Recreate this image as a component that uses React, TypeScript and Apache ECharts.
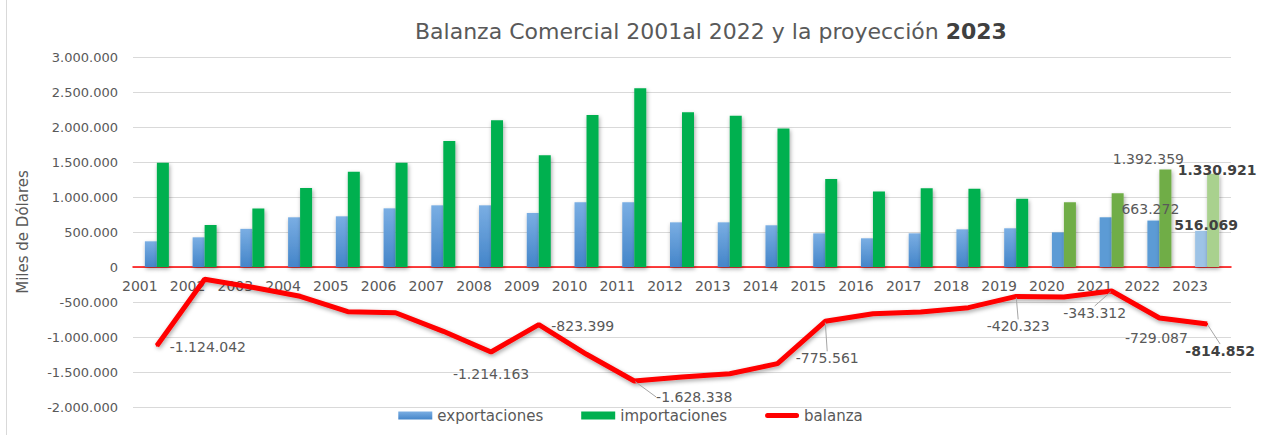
import React, { useEffect, useRef } from "react";
import * as echarts from "echarts";

const years = ["2001","2002","2003","2004","2005","2006","2007","2008","2009","2010","2011","2012","2013","2014","2015","2016","2017","2018","2019","2020","2021","2022","2023"];
const exportaciones = [367000,424000,545000,710000,724000,838000,881000,881000,772000,924000,924000,638000,638000,596000,481000,410000,481000,538000,553000,495000,710000,663272,516069];
const importaciones = [1491042,600000,835000,1129000,1362000,1491000,1800000,2095163,1595399,2171000,2552338,2210000,2162000,1977000,1256561,1077000,1124000,1119000,973323,924000,1053312,1392359,1330921];
const balanza = [-1124042,-176000,-290000,-419000,-638000,-653000,-919000,-1214163,-823399,-1247000,-1628338,-1572000,-1524000,-1381000,-775561,-667000,-643000,-581000,-420323,-429000,-343312,-729087,-814852];
const yTicks = { min: -2000000, max: 3000000, interval: 500000 };

const FONT = "DejaVu Sans";
const GRAY = "#595959";

const fmt = (v: number) => Math.round(v).toString().replace(/\B(?=(\d{3})+(?!\d))/g, ".");

// label placement (styling, not data)
const lineLabelShift: Record<number, { dx: number; dy: number; bold?: boolean; guide?: boolean }> = {
  0: { dx: 51, dy: 1 },
  7: { dx: 0, dy: 22 },
  8: { dx: 44, dy: 1 },
  10: { dx: 60, dy: 16, guide: true },
  14: { dx: 2, dy: 37, guide: true },
  18: { dx: 2, dy: 30, guide: true },
  20: { dx: -17, dy: 22, guide: true },
  21: { dx: -3, dy: 20 },
  22: { dx: 13, dy: 27, bold: true, guide: true },
};
const expLabel: Record<number, { offset: number[]; bold?: boolean }> = {
  21: { offset: [-3, 0] },
  22: { offset: [5, 6], bold: true },
};
const impLabel: Record<number, { offset: number[]; bold?: boolean }> = {
  21: { offset: [-17, 1] },
  22: { offset: [4, 8], bold: true },
};

const blueGrad = new echarts.graphic.LinearGradient(0, 0, 0, 1, [
  { offset: 0, color: "#7aaee3" },
  { offset: 1, color: "#4485c9" },
]);

function expColor(i: number) {
  if (i === 22) return "#9dc3e6";
  if (i >= 19) return "#5b9bd5";
  return blueGrad;
}
function impColor(i: number) {
  if (i === 22) return "#a9d18e";
  if (i >= 19) return "#70ad47";
  return "#00b050";
}

const barShadow = {
  shadowColor: "rgba(0,0,0,0.35)",
  shadowBlur: 4,
  shadowOffsetX: 1,
  shadowOffsetY: 2,
};

export default function App() {
  const ref = useRef<HTMLDivElement>(null);
  useEffect(() => {
    if (!ref.current) return;
    const chart = echarts.init(ref.current, undefined, { renderer: "svg" });
    const option: any = {
      animation: false,
      backgroundColor: "#ffffff",
      textStyle: { fontFamily: FONT },
      title: {
        left: 410,
        top: 15,
        text: "{n|Balanza Comercial 2001al 2022 y la proyección }{b|2023}",
        textStyle: {
          rich: {
            n: { fontFamily: FONT, fontSize: 22, color: GRAY, fontWeight: "normal" },
            b: { fontFamily: FONT, fontSize: 22, color: "#404040", fontWeight: "bold" },
          },
        },
      },
      legend: {
        left: "center",
        bottom: 7,
        itemWidth: 34,
        itemHeight: 8,
        itemGap: 38,
        textStyle: { fontFamily: FONT, fontSize: 15, color: GRAY },
        data: [
          { name: "exportaciones", icon: "rect" },
          { name: "importaciones", icon: "rect" },
          { name: "balanza", icon: "path://M2.5,0 L31.5,0 A2.5,2.5 0 0 1 31.5,5 L2.5,5 A2.5,2.5 0 0 1 2.5,0 Z" },
        ],
      },
      grid: { left: 133, right: 30, top: 57, bottom: 28 },
      xAxis: {
        type: "category",
        data: years,
        offset: -140,
        axisLine: { onZero: false, lineStyle: { color: "#ff0000", width: 1.5 } },
        axisTick: { show: false },
        axisLabel: {
          fontFamily: FONT,
          fontSize: 14,
          color: GRAY,
          margin: 12,
          padding: [0, 34, 0, 0],
        },
      },
      yAxis: {
        type: "value",
        min: yTicks.min,
        max: yTicks.max,
        interval: yTicks.interval,
        name: "Miles de Dólares",
        nameLocation: "middle",
        nameGap: 103,
        nameRotate: 90,
        nameTextStyle: { fontFamily: FONT, fontSize: 15, color: GRAY },
        axisLine: { show: false },
        axisTick: { show: false },
        splitLine: { lineStyle: { color: "#d9d9d9", width: 1 } },
        axisLabel: {
          fontFamily: FONT,
          fontSize: 13,
          color: GRAY,
          margin: 15,
          formatter: (v: number) => fmt(v),
        },
      },
      series: [
        {
          name: "exportaciones",
          type: "bar",
          barWidth: 12,
          barGap: "0%",
          itemStyle: { color: blueGrad, ...barShadow },
          data: exportaciones.map((v, i) => ({
            value: v,
            itemStyle: { color: expColor(i) },
            label: expLabel[i]
              ? {
                  show: true,
                  position: "top",
                  offset: expLabel[i].offset,
                  formatter: (p: any) => fmt(p.value),
                  fontFamily: FONT,
                  fontSize: 14,
                  color: expLabel[i].bold ? "#404040" : GRAY,
                  fontWeight: expLabel[i].bold ? "bold" : "normal",
                }
              : { show: false },
          })),
        },
        {
          name: "importaciones",
          type: "bar",
          barWidth: 12,
          barGap: "0%",
          itemStyle: { color: "#00b050", ...barShadow },
          data: importaciones.map((v, i) => ({
            value: v,
            itemStyle: { color: impColor(i) },
            label: impLabel[i]
              ? {
                  show: true,
                  position: "top",
                  offset: impLabel[i].offset,
                  formatter: (p: any) => fmt(p.value),
                  fontFamily: FONT,
                  fontSize: 14,
                  color: impLabel[i].bold ? "#404040" : GRAY,
                  fontWeight: impLabel[i].bold ? "bold" : "normal",
                }
              : { show: false },
          })),
        },
        {
          name: "balanza",
          type: "line",
          symbol: "circle",
          symbolSize: 2,
          z: 5,
          itemStyle: { color: "#ff0000" },
          lineStyle: {
            color: "#ff0000",
            width: 5,
            shadowColor: "rgba(0,0,0,0.35)",
            shadowBlur: 4,
            shadowOffsetX: 1,
            shadowOffsetY: 2,
          },
          labelLine: { show: false },
          labelLayout: (p: any) => {
            const s = lineLabelShift[p.dataIndex];
            return s ? { dx: s.dx, dy: s.dy } : {};
          },
          data: balanza.map((v, i) => {
            const s = lineLabelShift[i];
            return {
              value: v,
              label: s
                ? {
                    show: true,
                    position: "inside",
                    formatter: (p: any) => fmt(p.value),
                    fontFamily: FONT,
                    fontSize: 14,
                    color: s.bold ? "#404040" : GRAY,
                    fontWeight: s.bold ? "bold" : "normal",
                  }
                : { show: false },
              labelLine: s && s.guide
                ? { show: true, lineStyle: { color: "#a6a6a6", width: 1 } }
                : { show: false },
            };
          }),
        },
      ],
      graphic: [
        {
          type: "rect",
          shape: { x: 6.5, y: -2, width: 1260, height: 440 },
          style: { fill: "none", stroke: "#d9d9d9", lineWidth: 1 },
          silent: true,
        },
      ],
    };
    chart.setOption(option);
    return () => chart.dispose();
  }, []);
  return (
    <div
      ref={ref}
      style={{ position: "fixed", left: 0, top: 0, width: 1261, height: 435 }}
    />
  );
}
